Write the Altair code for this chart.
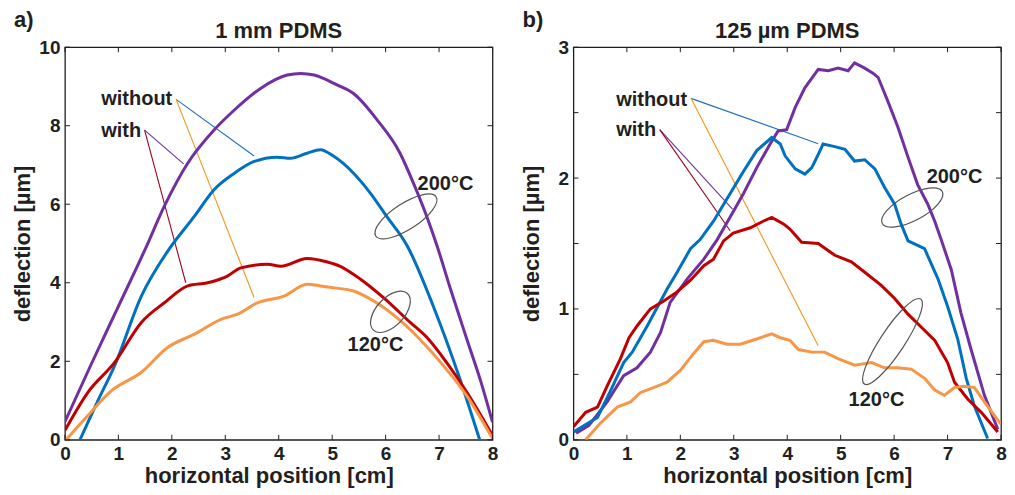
import altair as alt
import pandas as pd

# ---------------- data ----------------
X_TICKS = [0, 1, 2, 3, 4, 5, 6, 7, 8]

# panel a: 1 mm PDMS
A_PURPLE_X = [0, 0.5, 1.0, 1.5, 1.86, 2.30, 2.79, 3.17, 3.66, 4.16, 4.41, 4.66, 5.09, 5.40, 5.84, 6.27, 6.52, 6.77, 6.96, 7.2, 7.52, 7.8, 8.0]
A_PURPLE_Y = [0.46, 1.95, 3.4, 4.85, 5.95, 7.05, 7.89, 8.40, 8.95, 9.29, 9.33, 9.29, 9.04, 8.82, 8.15, 7.30, 6.54, 5.69, 4.95, 3.9, 2.56, 1.4, 0.45]
A_BLUE_X = [0.28, 0.6, 0.93, 1.43, 1.92, 2.42, 2.79, 3.17, 3.54, 3.97, 4.22, 4.53, 4.78, 5.03, 5.40, 5.71, 6.02, 6.40, 6.89, 7.39, 7.76]
A_BLUE_Y = [0, 0.95, 1.89, 3.66, 4.8, 5.69, 6.37, 6.79, 7.09, 7.20, 7.17, 7.30, 7.39, 7.22, 6.79, 6.29, 5.69, 4.95, 3.41, 1.55, 0]
A_RED_X = [0, 0.43, 0.93, 1.43, 1.86, 2.30, 2.67, 3.04, 3.29, 3.79, 4.04, 4.53, 4.91, 5.15, 5.53, 5.96, 6.46, 6.77, 7.14, 7.52, 8.0]
A_RED_Y = [0.24, 1.21, 1.97, 2.99, 3.49, 3.92, 4.00, 4.17, 4.38, 4.47, 4.42, 4.62, 4.53, 4.42, 4.09, 3.62, 2.99, 2.61, 1.97, 1.21, 0.11]
A_ORANGE_X = [0.02, 0.43, 0.87, 1.43, 1.92, 2.42, 2.92, 3.23, 3.60, 4.10, 4.53, 4.78, 5.03, 5.40, 5.77, 6.21, 6.64, 7.08, 7.52, 8.0]
A_ORANGE_Y = [0, 0.62, 1.25, 1.72, 2.35, 2.69, 3.07, 3.20, 3.49, 3.66, 3.96, 3.92, 3.87, 3.79, 3.54, 3.11, 2.56, 1.89, 1.12, 0.03]
A_Y_LABELS = [0, 2, 4, 6, 8, 10]
A_Y_TICKS = [0, 2, 4, 6, 8, 10]

# panel b: 125 µm PDMS
B_PURPLE_X = [0.05, 0.29, 0.63, 0.94, 1.19, 1.44, 1.63, 1.81, 2.13, 2.44, 2.69, 2.93, 3.18, 3.43, 3.68, 3.83, 3.99, 4.15, 4.33, 4.58, 4.77, 4.95, 5.14, 5.26, 5.45, 5.61, 5.70, 5.88, 6.07, 6.26, 6.44, 6.63, 6.76, 6.88, 7.07, 7.25, 7.44, 7.69, 7.94]
B_PURPLE_Y = [0.05, 0.11, 0.29, 0.49, 0.55, 0.67, 0.82, 1.05, 1.23, 1.38, 1.53, 1.70, 1.88, 2.08, 2.26, 2.36, 2.37, 2.54, 2.69, 2.83, 2.82, 2.84, 2.82, 2.88, 2.84, 2.80, 2.77, 2.59, 2.39, 2.16, 1.95, 1.80, 1.67, 1.53, 1.30, 0.97, 0.69, 0.34, 0.08]
B_BLUE_X = [0, 0.2, 0.45, 0.70, 0.94, 1.10, 1.38, 1.75, 1.94, 2.19, 2.37, 2.62, 2.93, 3.18, 3.43, 3.71, 3.87, 3.96, 4.15, 4.33, 4.46, 4.58, 4.67, 4.89, 5.08, 5.26, 5.45, 5.64, 5.82, 6.01, 6.13, 6.26, 6.57, 6.82, 7.00, 7.19, 7.35, 7.50, 7.75]
B_BLUE_Y = [0.06, 0.11, 0.17, 0.38, 0.59, 0.67, 0.87, 1.15, 1.28, 1.46, 1.53, 1.67, 1.88, 2.05, 2.21, 2.31, 2.26, 2.17, 2.07, 2.03, 2.08, 2.18, 2.26, 2.24, 2.22, 2.13, 2.14, 2.07, 1.93, 1.80, 1.65, 1.52, 1.46, 1.23, 1.02, 0.77, 0.47, 0.26, 0.01]
B_RED_X = [0, 0.23, 0.45, 0.63, 0.88, 1.04, 1.19, 1.44, 1.69, 1.94, 2.19, 2.44, 2.62, 2.81, 2.99, 3.31, 3.55, 3.71, 3.93, 4.05, 4.27, 4.58, 4.89, 5.20, 5.45, 5.76, 6.01, 6.26, 6.51, 6.76, 7.00, 7.13, 7.38, 7.63, 7.94]
B_RED_Y = [0.10, 0.21, 0.25, 0.41, 0.62, 0.78, 0.87, 1.00, 1.06, 1.13, 1.22, 1.33, 1.38, 1.52, 1.58, 1.62, 1.67, 1.70, 1.65, 1.61, 1.51, 1.50, 1.41, 1.36, 1.28, 1.18, 1.08, 0.96, 0.86, 0.76, 0.59, 0.44, 0.31, 0.21, 0.06]
B_ORANGE_X = [0.23, 0.51, 0.82, 1.07, 1.25, 1.57, 1.75, 2.0, 2.25, 2.44, 2.62, 2.87, 3.12, 3.43, 3.71, 3.87, 4.05, 4.21, 4.46, 4.70, 4.95, 5.26, 5.58, 5.82, 6.07, 6.32, 6.57, 6.76, 6.94, 7.13, 7.31, 7.50, 7.69, 7.94, 8.0]
B_ORANGE_Y = [0, 0.13, 0.25, 0.29, 0.36, 0.41, 0.44, 0.53, 0.66, 0.75, 0.76, 0.73, 0.73, 0.77, 0.81, 0.78, 0.76, 0.69, 0.67, 0.67, 0.62, 0.57, 0.59, 0.55, 0.55, 0.54, 0.47, 0.38, 0.34, 0.40, 0.41, 0.40, 0.29, 0.15, 0.12]
B_Y_LABELS = [0, 1, 2, 3]
B_Y_TICKS = [0, 0.5, 1, 1.5, 2, 2.5, 3]

SERIES = ["with 200°C", "without 200°C", "with 120°C", "without 120°C"]
SERIES_COLORS = ["#7030A0", "#0070C0", "#C00000", "#F79646"]

# annotation texts (data coordinates)
A_TEXT_LEFT = ["without", "with"]
A_TEXT_LEFT_X = [0.68, 0.68]
A_TEXT_LEFT_Y = [8.53, 7.72]
A_TEXT_CENTER = ["200°C", "120°C"]
A_TEXT_CENTER_X = [7.12, 5.81]
A_TEXT_CENTER_Y = [6.37, 2.27]

B_TEXT_LEFT = ["without", "with"]
B_TEXT_LEFT_X = [0.80, 0.80]
B_TEXT_LEFT_Y = [2.55, 2.32]
B_TEXT_CENTER = ["200°C", "120°C"]
B_TEXT_CENTER_X = [7.13, 5.67]
B_TEXT_CENTER_Y = [1.966, 0.262]

# leader lines: start (label) -> end (curve)
LEADER_TARGET = ["without 200°C", "without 120°C", "with 200°C", "with 120°C"]
LEADER_COLORS = ["#1F6FBF", "#F7941D", "#7030A0", "#A0001E"]
A_LEAD_X1 = [2.08, 2.08, 1.49, 1.49]
A_LEAD_Y1 = [8.67, 8.67, 7.89, 7.89]
A_LEAD_X2 = [3.54, 3.54, 2.22, 2.26]
A_LEAD_Y2 = [7.23, 3.62, 7.03, 4.00]
B_LEAD_X1 = [2.20, 2.20, 1.615, 1.615]
B_LEAD_Y1 = [2.609, 2.609, 2.370, 2.370]
B_LEAD_X2 = [4.58, 4.58, 2.976, 2.933]
B_LEAD_Y2 = [2.263, 0.719, 1.762, 1.597]

# grouping ellipses (centres in data coordinates)
A_ELL_X = [6.38, 6.09]
A_ELL_Y = [5.69, 3.26]
B_ELL_X = [6.34, 5.97]
B_ELL_Y = [1.775, 0.751]

# ---------------- styling ----------------
W, H = 428, 393
FONT = "Liberation Sans"
INK = "#231F20"
TICK = 5


def ellipse_path(ratio):
    k = 0.5523
    r = ratio
    return (f"M1,0 C1,{k*r:.4f} {k:.4f},{r:.4f} 0,{r:.4f} "
            f"C{-k:.4f},{r:.4f} -1,{k*r:.4f} -1,0 "
            f"C-1,{-k*r:.4f} {-k:.4f},{-r:.4f} 0,{-r:.4f} "
            f"C{k:.4f},{-r:.4f} 1,{-k*r:.4f} 1,0 Z")


def curves_df(curves):
    rows = []
    for name, (xs, ys) in zip(SERIES, curves):
        for i, (x, y) in enumerate(zip(xs, ys)):
            rows.append({"series": name, "x": x, "y": y, "i": i})
    return pd.DataFrame(rows)


def panel(curves, ymax, ylabels, yticks, lead, tleft, tcenter, ell, ell_geom,
          label, title, interp, title_x=None):
    xaxis = dict(values=X_TICKS, title="horizontal position [cm]", format="d",
                 ticks=False, tickSize=0, domain=False, grid=False,
                 labelPadding=5, titlePadding=2, labelFlush=False)
    if title_x is not None:
        xaxis["titleX"] = title_x
    xs = alt.X("x:Q", scale=alt.Scale(domain=[0, 8], nice=False, zero=False),
               axis=alt.Axis(**xaxis))
    ys = alt.Y("y:Q", scale=alt.Scale(domain=[0, ymax], nice=False, zero=False),
               axis=alt.Axis(values=ylabels, title="deflection [µm]", format="d",
                             ticks=False, tickSize=0, domain=False, grid=False,
                             labelPadding=5, titlePadding=4,
                             minExtent=26, maxExtent=26))

    lines = alt.Chart(curves_df(curves)).mark_line(
        strokeWidth=3, clip=True, interpolate=interp
    ).encode(
        x=xs, y=ys,
        color=alt.Color("series:N", scale=alt.Scale(domain=SERIES, range=SERIES_COLORS), legend=None),
        order="i:Q",
    )

    x1, y1, x2, y2 = lead
    lead_df = pd.DataFrame({"x": x1, "y": y1, "x2": x2, "y2": y2, "c": LEADER_COLORS})
    leaders = alt.Chart(lead_df).mark_rule(strokeWidth=1.1).encode(
        x=xs, y=ys, x2="x2:Q", y2="y2:Q", color=alt.Color("c:N", scale=None))

    layers = [leaders, lines]

    ex, ey = ell
    for cx, cy, (semi_a, semi_b, ang) in zip(ex, ey, ell_geom):
        e = alt.Chart(pd.DataFrame({"x": [cx], "y": [cy]})).mark_point(
            shape=ellipse_path(semi_b / semi_a), size=4 * semi_a * semi_a, angle=ang,
            filled=False, stroke="#555555", strokeWidth=1.2, opacity=1,
        ).encode(x=xs, y=ys)
        layers.append(e)

    tl_t, tl_x, tl_y = tleft
    tc_t, tc_x, tc_y = tcenter
    layers.append(alt.Chart(pd.DataFrame({"t": tl_t, "x": tl_x, "y": tl_y})).mark_text(
        font=FONT, fontSize=20, fontWeight="bold", align="left", baseline="alphabetic", color=INK
    ).encode(x=xs, y=ys, text="t:N"))
    layers.append(alt.Chart(pd.DataFrame({"t": tc_t, "x": tc_x, "y": tc_y})).mark_text(
        font=FONT, fontSize=20, fontWeight="bold", align="center", baseline="alphabetic", color=INK
    ).encode(x=xs, y=ys, text="t:N"))

    # inward ticks on all four sides
    xt = pd.DataFrame({"x": X_TICKS})
    yt = pd.DataFrame({"y": yticks})
    tick_style = dict(color=INK, strokeWidth=1)
    layers += [
        alt.Chart(xt).mark_rule(**tick_style).encode(x=xs, y=alt.value(H), y2=alt.value(H - TICK)),
        alt.Chart(xt).mark_rule(**tick_style).encode(x=xs, y=alt.value(0), y2=alt.value(TICK)),
        alt.Chart(yt).mark_rule(**tick_style).encode(y=ys, x=alt.value(0), x2=alt.value(TICK)),
        alt.Chart(yt).mark_rule(**tick_style).encode(y=ys, x=alt.value(W), x2=alt.value(W - TICK)),
    ]

    lab = pd.DataFrame({"t": [label]})
    layers.append(alt.Chart(lab).mark_text(
        font=FONT, fontSize=22, fontWeight="bold", align="left", baseline="top", color=INK
    ).encode(x=alt.value(-51), y=alt.value(-37), text="t:N"))
    tit = pd.DataFrame({"t": [title]})
    layers.append(alt.Chart(tit).mark_text(
        font=FONT, fontSize=22, fontWeight="bold", align="center", baseline="alphabetic", color=INK
    ).encode(x=alt.value(W / 2), y=alt.value(-9), text="t:N"))

    return alt.layer(*layers).properties(width=W, height=H)


pa = panel(
    [(A_PURPLE_X, A_PURPLE_Y), (A_BLUE_X, A_BLUE_Y), (A_RED_X, A_RED_Y), (A_ORANGE_X, A_ORANGE_Y)],
    10, A_Y_LABELS, A_Y_TICKS,
    (A_LEAD_X1, A_LEAD_Y1, A_LEAD_X2, A_LEAD_Y2),
    (A_TEXT_LEFT, A_TEXT_LEFT_X, A_TEXT_LEFT_Y),
    (A_TEXT_CENTER, A_TEXT_CENTER_X, A_TEXT_CENTER_Y),
    (A_ELL_X, A_ELL_Y), [(36, 13, 327), (25, 14, 313)],
    "a)", "1 mm PDMS", "monotone", title_x=204,
)
pb = panel(
    [(B_PURPLE_X, B_PURPLE_Y), (B_BLUE_X, B_BLUE_Y), (B_RED_X, B_RED_Y), (B_ORANGE_X, B_ORANGE_Y)],
    3, B_Y_LABELS, B_Y_TICKS,
    (B_LEAD_X1, B_LEAD_Y1, B_LEAD_X2, B_LEAD_Y2),
    (B_TEXT_LEFT, B_TEXT_LEFT_X, B_TEXT_LEFT_Y),
    (B_TEXT_CENTER, B_TEXT_CENTER_X, B_TEXT_CENTER_Y),
    (B_ELL_X, B_ELL_Y), [(34, 13, 332), (51, 12, 303.5)],
    "b)", "125 µm PDMS", "linear",
)

chart = alt.hconcat(pa, pb, spacing=81, bounds="flush").configure_view(
    stroke=INK, strokeWidth=1.3
).configure_axis(
    labelFont=FONT, labelFontSize=19, labelFontWeight="bold", labelColor=INK,
    titleFont=FONT, titleFontSize=22, titleFontWeight="bold", titleColor=INK,
).properties(
    padding={"left": 3, "top": 0, "right": 0, "bottom": 0},
    background="white",
)

chart.save("out.html", embed_options={"renderer": "svg", "actions": False})
